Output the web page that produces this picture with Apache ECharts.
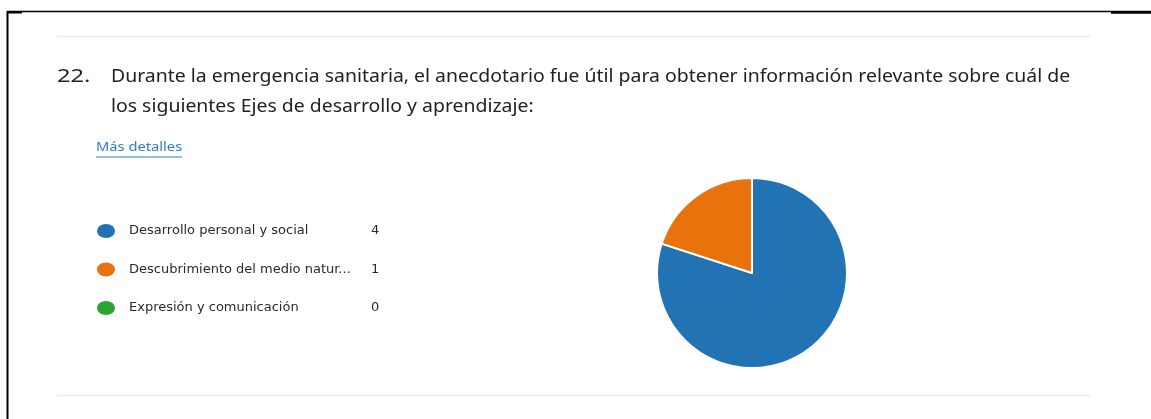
<!DOCTYPE html>
<html>
<head>
<meta charset="utf-8">
<script src="https://cdn.jsdelivr.net/npm/echarts@6/dist/echarts.min.js"></script>
<style>
  html, body { margin: 0; padding: 0; background: #fff; }
  #main { width: 1151px; height: 419px; }
</style>
</head>
<body>
<div id="main"></div>
<script>
// Data
var categories = ['Desarrollo personal y social', 'Descubrimiento del medio natural y social', 'Expresión y comunicación'];
var counts = [4, 1, 0];
var colors = ['#2173b3', '#e9720c', '#2ca332'];

var questionNo = '22.';
var questionLines = [
    'Durante la emergencia sanitaria, el anecdotario fue útil para obtener información relevante sobre cuál de',
    'los siguientes Ejes de desarrollo y aprendizaje:'
];
var linkText = 'Más detalles';

var font = '"Noto Sans", "Open Sans", sans-serif';
var legendFont = '"DejaVu Sans", "Noto Sans", sans-serif';
// the screenshot is a bit stretched sideways
var stretch = 1.11;

var pieData = categories.map(function (name, i) {
    return { name: name, value: counts[i], itemStyle: { color: colors[i] } };
});

var chart = echarts.init(document.getElementById('main'));

chart.setOption({
    animation: false,
    textStyle: { fontFamily: font },
    graphic: [
        // page frame (scan border)
        { type: 'line', shape: { x1: 7, y1: 11.5, x2: 1151, y2: 11.5 }, style: { stroke: '#000', lineWidth: 1.5 } },
        { type: 'line', shape: { x1: 7, y1: 12.5, x2: 22, y2: 12.5 }, style: { stroke: '#000', lineWidth: 2 } },
        { type: 'line', shape: { x1: 1111, y1: 12.5, x2: 1151, y2: 12.5 }, style: { stroke: '#000', lineWidth: 2.5 } },
        { type: 'line', shape: { x1: 7.5, y1: 11, x2: 7.5, y2: 419 }, style: { stroke: '#000', lineWidth: 2 } },
        // separators
        { type: 'line', shape: { x1: 57, y1: 36.5, x2: 1090, y2: 36.5 }, style: { stroke: '#ebebeb', lineWidth: 1.5 } },
        { type: 'line', shape: { x1: 57, y1: 395.5, x2: 1090, y2: 395.5 }, style: { stroke: '#ebebeb', lineWidth: 1.5 } },
        // question
        { type: 'text', x: 57, y: 68, scaleX: 1.35, style: { text: questionNo, font: '17.5px ' + font, fill: '#222', verticalAlign: 'top' } },
        { type: 'text', x: 111, y: 68, scaleX: stretch, style: { text: questionLines[0], font: '17.5px ' + font, fill: '#222', verticalAlign: 'top' } },
        { type: 'text', x: 111, y: 98, scaleX: stretch, style: { text: questionLines[1], font: '17.5px ' + font, fill: '#222', verticalAlign: 'top' } },
        // link
        { type: 'text', x: 96, y: 141, scaleX: 1.13, style: { text: linkText, font: '13px ' + font, fill: '#2f7fc8', verticalAlign: 'top' } },
        { type: 'line', shape: { x1: 96, y1: 157, x2: 182, y2: 157 }, style: { stroke: '#2f7fc8', lineWidth: 1 } }
    ],
    legend: [
        {
            orient: 'vertical',
            left: 90,
            top: 217,
            itemWidth: 20,
            itemHeight: 16,
            itemGap: 20.5,
            icon: 'path://M0,8A10,8,0,1,1,20,8A10,8,0,1,1,0,8Z',
            symbolKeepAspect: false,
            data: categories,
            selectedMode: false,
            textStyle: {
                fontFamily: legendFont,
                fontSize: 13,
                lineHeight: 18,
                color: '#2a2a2a',
                padding: [0, 0, 0, 8],
                width: 228,
                overflow: 'truncate',
                ellipsis: '...'
            }
        },
        {
            orient: 'vertical',
            left: 361,
            top: 217,
            itemWidth: 0,
            itemHeight: 16,
            itemGap: 20.5,
            icon: 'none',
            data: categories,
            selectedMode: false,
            formatter: function (name) {
                return String(counts[categories.indexOf(name)]);
            },
            textStyle: { fontFamily: legendFont, fontSize: 13, lineHeight: 18, color: '#2a2a2a' }
        }
    ],
    series: [
        {
            type: 'pie',
            center: [752, 273],
            radius: 95,
            startAngle: 90,
            clockwise: true,
            label: { show: false },
            labelLine: { show: false },
            itemStyle: { borderColor: '#fff', borderWidth: 2 },
            emphasis: { disabled: true },
            data: pieData
        }
    ]
});
</script>
</body>
</html>
